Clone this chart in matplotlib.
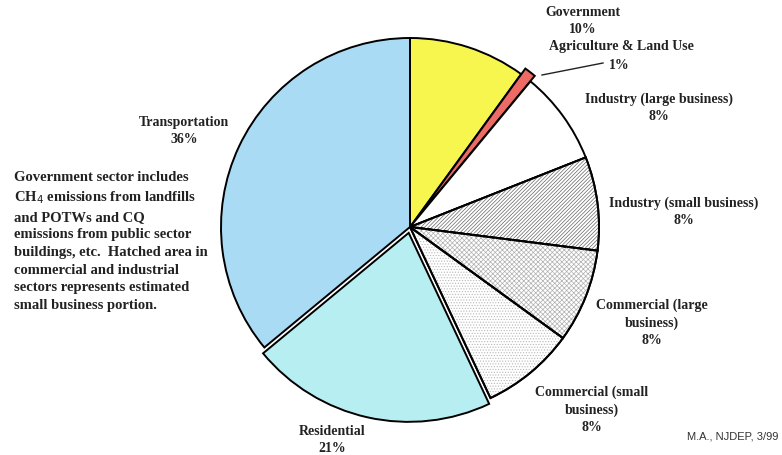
import matplotlib.pyplot as plt
from matplotlib.patches import Wedge

sectors = ['Government', 'Agriculture & Land Use', 'Industry (large business)',
           'Industry (small business)', 'Commercial (large business)',
           'Commercial (small business)', 'Residential', 'Transportation']
shares = [10, 1, 8, 8, 8, 8, 21, 36]
colors = ['#f7f64e', '#ee6a64', 'white', 'white', 'white', 'white', '#b7eef2', '#a9dbf5']
hatches = [None, None, None, '/////////', 'xxxxxxx', '......', None, None]
# offsets in pixels (pie explode works in data units)
explode = [0, 7, 0, 0, 0, 0, 6, 0]

fig = plt.figure(figsize=(7.82, 4.56), dpi=100)
ax = fig.add_axes([0, 0, 1, 1])

cx, cy, R = 410, 456 - 228, 189
wedges, _ = ax.pie(shares, colors=colors, explode=explode, startangle=90,
                   counterclock=False, center=(cx, cy), radius=R, frame=True,
                   wedgeprops=dict(edgecolor='black', linewidth=1.4))
ax.set_xlim(0, 782)
ax.set_ylim(0, 456)
ax.set_aspect('equal')
ax.axis('off')

# grey hatching for the small-business parts
plt.rcParams['hatch.linewidth'] = 0.5
hatch_cols = {'/////////': '#666666', 'xxxxxxx': '#b0b0b0', '......': '#b8b8b8'}
for w, h in zip(wedges, hatches):
    if h:
        ax.add_patch(Wedge(w.center, w.r, w.theta1, w.theta2, facecolor='none',
                           edgecolor=hatch_cols[h], hatch=h, linewidth=0))
        ax.add_patch(Wedge(w.center, w.r, w.theta1, w.theta2, facecolor='none',
                           edgecolor='black', linewidth=1.4))

lab = dict(family='Liberation Serif', fontweight='bold', fontsize=10,
           ha='center', va='center', color='#222222', linespacing=1.4)
Y = lambda y: 456 - y
ax.text(583, Y(21), 'Government\n10%', **lab)
ax.text(621, Y(46), 'Agriculture & Land Use', **lab)
ax.text(619, Y(65), '1%', **lab)
ax.plot([542, 603], [Y(76), Y(64)], color='#222222', lw=1)
ax.text(659, Y(108), 'Industry (large business)\n8%', **lab)
ax.text(684, Y(212), 'Industry (small business)\n8%', **lab)
ax.text(652, Y(323), 'Commercial (large\nbusiness)\n8%', **lab)
ax.text(592, Y(410), 'Commercial (small\nbusiness)\n8%', **lab)
ax.text(332, Y(440), 'Residential\n21%', **lab)
ax.text(184, Y(131), 'Transportation\n36%', **lab)

note = ('Government sector includes\nCH$_4$ emissions from landfills\n'
        'and POTWs and CQ\nemissions from public sector\n'
        'buildings, etc.  Hatched area in\ncommercial and industrial\n'
        'sectors represents estimated\nsmall business portion.')
ax.text(14, Y(171), note, family='Liberation Serif', fontweight='bold',
        fontsize=10.5, ha='left', va='top', color='#222222', linespacing=1.46)

ax.text(778, Y(437), 'M.A., NJDEP, 3/99', family='Liberation Sans', fontsize=8,
        ha='right', va='center', color='#333333')

fig.savefig('out.png', dpi=100)
